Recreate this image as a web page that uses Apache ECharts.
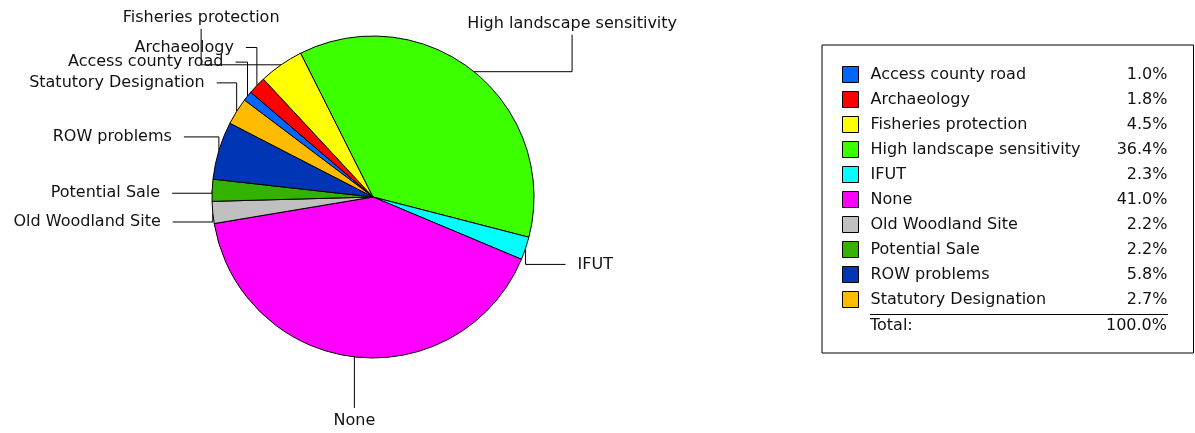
<!DOCTYPE html>
<html>
<head>
<meta charset="utf-8">
<script src="https://cdn.jsdelivr.net/npm/echarts@6/dist/echarts.min.js"></script>
<style>
  html, body { margin: 0; padding: 0; background: #fff; }
  #chart { width: 1195px; height: 433px; }
</style>
</head>
<body>
<div id="chart"></div>
<script>
// Constraint categories and their share of the total (%)
const categories = [
  'Access county road',
  'Archaeology',
  'Fisheries protection',
  'High landscape sensitivity',
  'IFUT',
  'None',
  'Old Woodland Site',
  'Potential Sale',
  'ROW problems',
  'Statutory Designation'
];
const shares = [1.0, 1.8, 4.5, 36.4, 2.3, 41.0, 2.2, 2.2, 5.8, 2.7];
const sliceColors = [
  '#0066FF', '#FF0000', '#FFFF00', '#3CFF00', '#00FFFF',
  '#FF00FF', '#C0C0C0', '#33B200', '#0036B5', '#FFBB00'
];
const totalShare = 100.0;

// Leader-line routing per slice, relative to the slice's outer anchor point.
// 'vh' = vertical then horizontal, 'hv' = horizontal then vertical, 'v' = straight down.
const leaderLegs = [
  { route: 'vh', dy: -34, dx: -12 },
  { route: 'vh', dy: -38, dx: -11 },
  { route: 'hv', dx: -80, dy: -36 },
  { route: 'hv', dx: 98, dy: -37 },
  { route: 'vh', dy: 16, dx: 40 },
  { route: 'v', dy: 51 },
  { route: 'vh', dy: 9.5, dx: -40 },
  { route: 'vh', dy: 3, dx: -40 },
  { route: 'vh', dy: -13.5, dx: -35 },
  { route: 'vh', dy: -28.5, dx: -20 }
];

const FONT = '"DejaVu Sans", Verdana, sans-serif';
const FONT_SIZE = 16;
const TEXT_COLOR = '#111';
const PIE_CENTER = [373, 197];
const PIE_RADIUS = 161;
const START_ANGLE = 143;

const chart = echarts.init(document.getElementById('chart'), null, { renderer: 'canvas' });

// Fallback anchor: outer edge of the slice at its mid angle
function sliceAnchor(idx) {
  const sum = shares.reduce((a, b) => a + b, 0);
  let before = 0;
  for (let i = 0; i < idx; i++) before += shares[i];
  const mid = (before + shares[idx] / 2) / sum * 360;
  const a = (START_ANGLE - mid) * Math.PI / 180;
  return [PIE_CENTER[0] + PIE_RADIUS * Math.cos(a), PIE_CENTER[1] - PIE_RADIUS * Math.sin(a)];
}

function placeLabel(params) {
  const i = params.dataIndex;
  const leg = leaderLegs[i];
  const anchor = (params.labelLinePoints && params.labelLinePoints[0])
    ? params.labelLinePoints[0].slice() : sliceAnchor(i);
  const [ax, ay] = anchor;
  const gap = 12;
  if (leg.route === 'vh') {
    const bend = [ax, ay + leg.dy];
    const end = [ax + leg.dx, ay + leg.dy];
    return {
      x: end[0] + (leg.dx < 0 ? -gap : gap),
      y: end[1],
      align: leg.dx < 0 ? 'right' : 'left',
      verticalAlign: 'middle',
      labelLinePoints: [anchor, bend, end]
    };
  }
  if (leg.route === 'hv') {
    const bend = [ax + leg.dx, ay];
    const end = [ax + leg.dx, ay + leg.dy];
    return {
      x: end[0],
      y: end[1] + (leg.dy < 0 ? -3 : 3),
      align: 'center',
      verticalAlign: leg.dy < 0 ? 'bottom' : 'top',
      labelLinePoints: [anchor, bend, end]
    };
  }
  const end = [ax, ay + leg.dy];
  return {
    x: end[0],
    y: end[1] + 5,
    align: 'center',
    verticalAlign: 'top',
    labelLinePoints: [anchor, end, end]
  };
}

const option = {
  backgroundColor: '#fff',
  animation: false,
  legend: {
    orient: 'vertical',
    left: 822,
    top: 45,
    padding: [21, 26, 45, 20],
    itemWidth: 16,
    itemHeight: 16,
    itemGap: 8,
    icon: 'rect',
    selectedMode: false,
    backgroundColor: '#fff',
    borderColor: '#000',
    borderWidth: 1,
    itemStyle: { borderColor: '#000', borderWidth: 1 },
    data: categories,
    formatter: function (name) {
      const i = categories.indexOf(name);
      return '{n|' + name + '}{v|' + shares[i].toFixed(1) + '%}';
    },
    textStyle: {
      fontFamily: FONT,
      fontSize: FONT_SIZE,
      color: TEXT_COLOR,
      rich: {
        n: { width: 220, padding: [0, 0, 0, 7], fontFamily: FONT, fontSize: FONT_SIZE, color: TEXT_COLOR, lineHeight: 16 },
        v: { width: 77, align: 'right', fontFamily: FONT, fontSize: FONT_SIZE, color: TEXT_COLOR, lineHeight: 16 }
      }
    }
  },
  graphic: {
    elements: [
      {
        type: 'line',
        z: 100,
        shape: { x1: 870, y1: 314.5, x2: 1168, y2: 314.5 },
        style: { stroke: '#000', lineWidth: 1 }
      },
      {
        type: 'text',
        z: 100,
        x: 870, y: 326,
        style: { text: 'Total:', font: FONT_SIZE + 'px ' + FONT, fill: TEXT_COLOR, verticalAlign: 'middle' }
      },
      {
        type: 'text',
        z: 100,
        x: 1167, y: 326,
        style: { text: totalShare.toFixed(1) + '%', font: FONT_SIZE + 'px ' + FONT, fill: TEXT_COLOR, align: 'right', verticalAlign: 'middle' }
      }
    ]
  },
  series: [{
    type: 'pie',
    center: PIE_CENTER,
    radius: PIE_RADIUS,
    startAngle: START_ANGLE,
    clockwise: true,
    avoidLabelOverlap: false,
    emphasis: { disabled: true },
    itemStyle: { borderColor: '#000', borderWidth: 1 },
    label: {
      show: true,
      position: 'outside',
      formatter: '{b}',
      fontFamily: FONT,
      fontSize: FONT_SIZE,
      color: TEXT_COLOR
    },
    labelLine: {
      show: true,
      length: 20,
      length2: 20,
      smooth: false,
      lineStyle: { color: '#000', width: 1 }
    },
    labelLayout: placeLabel,
    data: categories.map((name, i) => ({
      name: name,
      value: shares[i],
      itemStyle: { color: sliceColors[i] }
    }))
  }]
};

chart.setOption(option);
</script>
</body>
</html>
